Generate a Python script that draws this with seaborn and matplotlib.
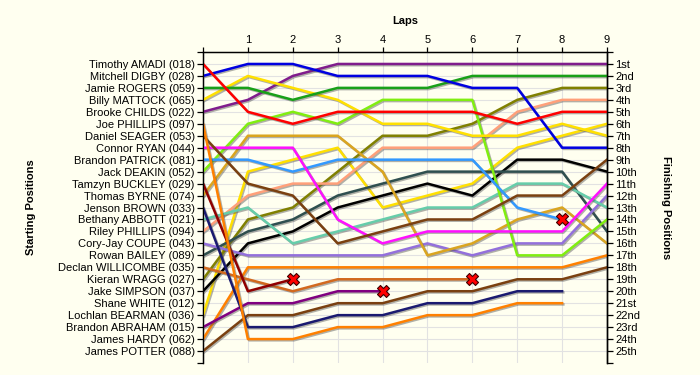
import matplotlib
matplotlib.use("Agg")
import matplotlib.pyplot as plt
import matplotlib.patheffects as pe
import pandas as pd
import seaborn as sns

# ---------------- data ----------------
laps = list(range(10))
lap_labels = ["", "1", "2", "3", "4", "5", "6", "7", "8", "9"]

start_labels = [
    "Timothy AMADI (018)", "Mitchell DIGBY (028)", "Jamie ROGERS (059)",
    "Billy MATTOCK (065)", "Brooke CHILDS (022)", "Joe PHILLIPS (097)",
    "Daniel SEAGER (053)", "Connor RYAN (044)", "Brandon PATRICK (081)",
    "Jack DEAKIN (052)", "Tamzyn BUCKLEY (029)", "Thomas BYRNE (074)",
    "Jenson BROWN (033)", "Bethany ABBOTT (021)", "Riley PHILLIPS (094)",
    "Cory-Jay COUPE (043)", "Rowan BAILEY (089)", "Declan WILLICOMBE (035)",
    "Kieran WRAGG (027)", "Jake SIMPSON (037)", "Shane WHITE (012)",
    "Lochlan BEARMAN (036)", "Brandon ABRAHAM (015)", "James HARDY (062)",
    "James POTTER (088)",
]
finish_labels = [
    "1st", "2nd", "3rd", "4th", "5th", "6th", "7th", "8th", "9th", "10th",
    "11th", "12th", "13th", "14th", "15th", "16th", "17th", "18th", "19th",
    "20th", "21st", "22nd", "23rd", "24th", "25th",
]

# positions per lap (lap 0 .. lap 9); None = no data
pos_amadi    = [1, 5, 6, 5, 5, 5, 5, 6, 5, 5]
pos_digby    = [2, 1, 1, 2, 2, 2, 3, 3, 8, 8]
pos_rogers   = [3, 3, 4, 3, 3, 3, 2, 2, 2, 2]
pos_mattock  = [4, 2, 3, 4, 6, 6, 7, 7, 6, 7]
pos_childs   = [5, 4, 2, 1, 1, 1, 1, 1, 1, 1]
pos_jphil    = [6, 24, 24, 23, 23, 22, 22, 21, 21, None]
pos_seager   = [7, 11, 12, 16, 15, 14, 14, 12, 12, 9]
pos_ryan     = [8, 8, 8, 14, 16, 15, 15, 15, 15, 11]
pos_patrick  = [9, 9, 10, 9, 9, 9, 9, 13, 14, None]
pos_deakin   = [10, 6, 5, 6, 4, 4, 4, 17, 17, 14]
pos_buckley  = [11, 20, 19, None, None, None, None, None, None, None]
pos_byrne    = [12, 7, 7, 7, 10, 17, 16, 14, 13, 16]
pos_brown    = [13, 23, 23, 22, 22, 21, 21, 20, 20, None]
pos_abbott   = [14, 13, 16, 15, 14, 13, 13, 11, 11, 13]
pos_rphil    = [15, 12, 11, 11, 8, 8, 8, 5, 4, 4]
pos_coupe    = [16, 17, 17, 17, 17, 16, 17, 16, 16, 12]
pos_bailey   = [17, 15, 14, 12, 11, 10, 10, 10, 10, 15]
pos_willic   = [18, 19, 20, 19, 19, 19, 19, None, None, None]
pos_wragg    = [19, 14, 13, 10, 7, 7, 6, 4, 3, 3]
pos_simpson  = [20, 16, 15, 13, 12, 11, 12, 9, 9, 10]
pos_bearman  = [22, 10, 9, 8, 13, 12, 11, 8, 7, 6]
pos_abraham  = [23, 21, 21, 20, 20, None, None, None, None, None]
pos_hardy    = [24, 18, 18, 18, 18, 18, 18, 18, 18, 17]
pos_potter   = [25, 22, 22, 21, 21, 20, 20, 19, 19, 18]

drivers = [
    ("Timothy AMADI (018)", pos_amadi, "#FF0000"),
    ("Mitchell DIGBY (028)", pos_digby, "#0000E0"),
    ("Jamie ROGERS (059)", pos_rogers, "#18A018"),
    ("Billy MATTOCK (065)", pos_mattock, "#FFE000"),
    ("Brooke CHILDS (022)", pos_childs, "#801C8C"),
    ("Joe PHILLIPS (097)", pos_jphil, "#FF8000"),
    ("Daniel SEAGER (053)", pos_seager, "#7A4010"),
    ("Connor RYAN (044)", pos_ryan, "#FF10FF"),
    ("Brandon PATRICK (081)", pos_patrick, "#3399FF"),
    ("Jack DEAKIN (052)", pos_deakin, "#80EE10"),
    ("Tamzyn BUCKLEY (029)", pos_buckley, "#900000"),
    ("Thomas BYRNE (074)", pos_byrne, "#DAA520"),
    ("Jenson BROWN (033)", pos_brown, "#1A1A70"),
    ("Bethany ABBOTT (021)", pos_abbott, "#66CDAA"),
    ("Riley PHILLIPS (094)", pos_rphil, "#FFA07A"),
    ("Cory-Jay COUPE (043)", pos_coupe, "#9370DB"),
    ("Rowan BAILEY (089)", pos_bailey, "#2F4F4F"),
    ("Declan WILLICOMBE (035)", pos_willic, "#D2691E"),
    ("Kieran WRAGG (027)", pos_wragg, "#808000"),
    ("Jake SIMPSON (037)", pos_simpson, "#000000"),
    ("Lochlan BEARMAN (036)", pos_bearman, "#FFE000"),
    ("Brandon ABRAHAM (015)", pos_abraham, "#800080"),
    ("James HARDY (062)", pos_hardy, "#FF8000"),
    ("James POTTER (088)", pos_potter, "#7A4010"),
]

# retirements: (driver, lap)
retired_driver = ["Tamzyn BUCKLEY (029)", "Brandon ABRAHAM (015)",
                  "Declan WILLICOMBE (035)", "Brandon PATRICK (081)"]
retired_lap = [2, 4, 6, 8]

# ---------------- build frames ----------------
rows = []
for name, pos, col in drivers:
    for lap, p in zip(laps, pos):
        if p is not None:
            rows.append({"driver": name, "lap": lap, "pos": p})
df = pd.DataFrame(rows)
palette = {name: col for name, _, col in drivers}
order = [d[0] for d in drivers][::-1]

pos_lookup = {name: pos for name, pos, _ in drivers}
ret_df = pd.DataFrame({
    "driver": retired_driver,
    "lap": retired_lap,
    "pos": [pos_lookup[d][l] for d, l in zip(retired_driver, retired_lap)],
})

# ---------------- plot ----------------
BG = "#FFFFF0"
plt.rcParams["font.family"] = ["Liberation Sans", "DejaVu Sans"]
plt.rcParams["font.size"] = 8

fig = plt.figure(figsize=(7, 3.75), dpi=100, facecolor=BG)
ax = fig.add_axes([203 / 700, 1 - 363 / 375, 404 / 700, 311 / 375])
ax.set_facecolor(BG)

sns.lineplot(data=df, x="lap", y="pos", hue="driver", hue_order=order,
             palette=palette, estimator=None, sort=False, legend=False,
             linewidth=1.8, ax=ax, zorder=3)
for ln in ax.lines:
    ln.set_path_effects([pe.SimpleLineShadow(offset=(0.9, -0.9),
                                             shadow_color="#505050", alpha=0.45),
                         pe.Normal()])

sns.scatterplot(data=ret_df, x="lap", y="pos", marker="X", color="#FF0000",
                s=75, edgecolor="#400000", linewidth=0.8, ax=ax, zorder=6,
                legend=False)

ax.set_xlim(0, 9)
ax.set_ylim(26, 0)

# grid
ax.set_xticks(laps)
ax.set_xticklabels(lap_labels)
ax.set_yticks(range(1, 26))
ax.set_yticklabels(start_labels)
ax.set_yticks([0, 26], minor=True)
ax.grid(True, which="major", color="#E2E2E2", linewidth=0.8, zorder=0)
ax.set_axisbelow(True)

ax.xaxis.tick_top()
ax.xaxis.set_label_position("top")
ax.set_xlabel("Laps", fontweight="bold", labelpad=8)
ax.tick_params(axis="x", which="major", length=3.5, width=0.9, pad=1.2,
               colors="black", labelsize=8)
ax.tick_params(axis="y", which="both", length=4, width=0.9, pad=2,
               labelsize=8, colors="black")
ax.set_ylabel("Starting Positions", fontweight="bold")
ax.yaxis.set_label_coords(-0.413, 0.5)

for s in ["bottom"]:
    ax.spines[s].set_visible(False)
for s in ["left", "top", "right"]:
    ax.spines[s].set_color("black")
    ax.spines[s].set_linewidth(1.0)

ax2 = ax.twinx()
ax2.set_ylim(26, 0)
ax2.set_yticks(range(1, 26))
ax2.set_yticklabels(finish_labels)
ax2.set_yticks([0, 26], minor=True)
ax2.tick_params(axis="y", which="both", length=4, width=0.9, pad=2,
                labelsize=8, colors="black")
ax2.spines["bottom"].set_visible(False)
ax2.spines["right"].set_linewidth(1.0)
ax2.set_ylabel("Finishing Positions", fontweight="bold", rotation=-90)
ax2.yaxis.set_label_coords(1.158, 0.5)

fig.savefig("out.png", dpi=100, facecolor=BG)
